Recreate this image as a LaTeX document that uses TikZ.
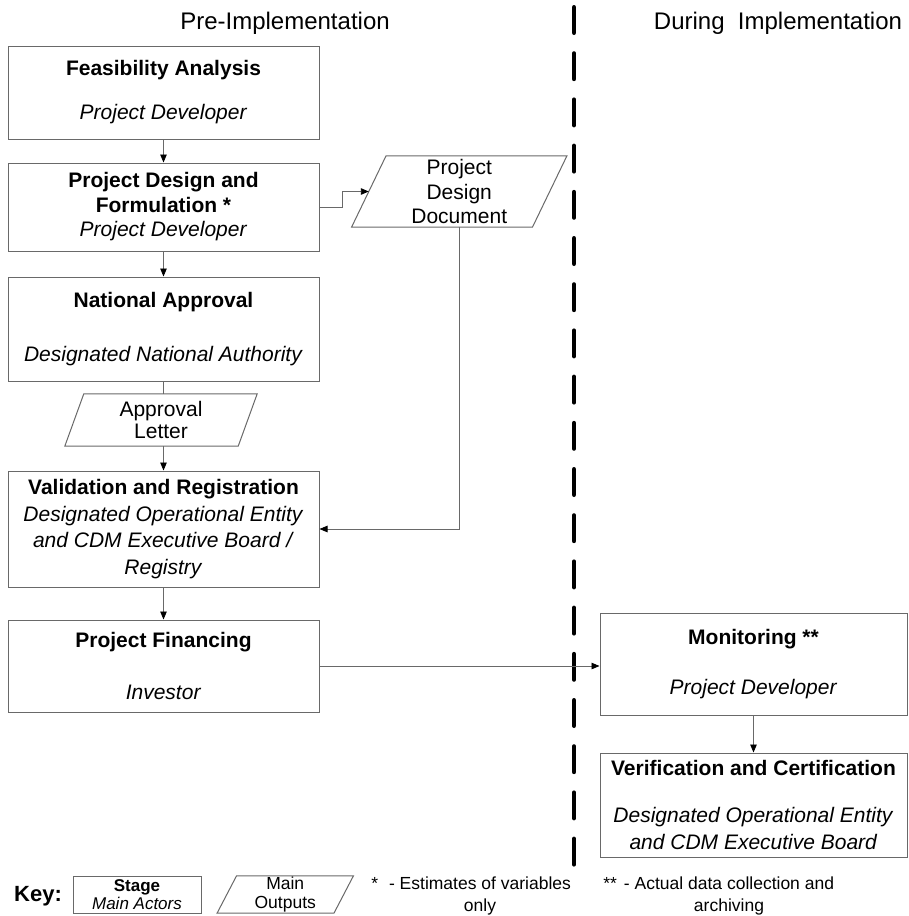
\documentclass[tikz,border=0pt]{standalone}
\usepackage{fontspec}
\setmainfont{Liberation Sans}
\usetikzlibrary{arrows.meta,calc}
\definecolor{edgegray}{RGB}{105,105,105}
\newcommand\paraoutline[2]{\draw[edgegray,line width=1pt] ([xshift=#2pt]#1.north west) -- ([xshift=#2pt]#1.north east) -- ([xshift=-#2pt]#1.south east) -- ([xshift=-#2pt]#1.south west) -- cycle;}
\begin{document}
\begin{tikzpicture}[x=1pt,y=-1pt,
  stagebox/.style={draw=edgegray,line width=1pt,minimum width=311pt,align=center,inner sep=0pt,font=\fontsize{21}{26}\selectfont},
  outbox/.style={align=center,inner sep=0pt,font=\fontsize{21}{24.5}\selectfont},
  link/.style={edgegray,line width=0.9pt},
  arr/.style={link,-{Triangle[length=8pt,width=6.5pt,color=black]}},
  heading/.style={font=\fontsize{24}{28}\selectfont,inner sep=0pt},
  keytext/.style={font=\fontsize{17.5}{22}\selectfont,inner sep=0pt,align=center},
]
\fill[white] (0,0) rectangle (908,916);
\useasboundingbox (0,0) rectangle (908,916);

% headings
\node[heading] (pre) at (285,23) {Pre-Implementation};
\node[heading] (during) at (778,23) {During\ \ Implementation};

% phase divider
\draw[line width=4.5pt,line cap=round,dash pattern=on 25.5pt off 20.7pt] (574,7.25) -- (574,866);

% stages
\node[stagebox,minimum height=93pt] (feas) at (163.5,92.5) {\textbf{Feasibility Analysis}\\[18pt]\textit{Project Developer}};
\node[stagebox,minimum height=88pt,font=\fontsize{21}{24.5}\selectfont] (design) at (163.5,207) {\textbf{Project Design and}\\\textbf{Formulation *}\\\textit{Project Developer}};
\node[stagebox,minimum height=104pt] (natl) at (163.5,329) {\textbf{National Approval}\\[28pt]\textit{Designated National Authority}};
\node[stagebox,minimum height=116pt,font=\fontsize{21}{26.7}\selectfont] (valid) at (163.5,529) {\textbf{Validation and Registration}\\\textit{Designated Operational Entity}\\\textit{and CDM Executive Board /}\\\textit{Registry}};
\node[stagebox,minimum height=92pt] (fin) at (163.5,666) {\textbf{Project Financing}\\[26pt]\textit{Investor}};
\node[stagebox,minimum width=307pt,minimum height=102pt] (mon) at (753.5,664) {\textbf{Monitoring **}\\[24pt]\textit{Project Developer}};
\node[stagebox,minimum width=307pt,minimum height=104pt,font=\fontsize{21}{27}\selectfont] (verif) at (753.5,805) {\textbf{Verification and Certification}\\[20pt]\textit{Designated Operational Entity}\\\textit{and CDM Executive Board}};

% outputs
\node[outbox,minimum width=173pt,minimum height=52pt,font=\fontsize{21}{22}\selectfont] (letter) at (161,420) {Approval\\Letter};
\paraoutline{letter}{9.5}
\node[outbox,minimum width=180.5pt,minimum height=71pt] (pdd) at (459.25,191.5) {Project\\Design\\Document};
\paraoutline{pdd}{17.25}

% connectors
\draw[arr] (feas) -- (design);
\draw[arr] (design) -- (natl);
\draw[link] (natl.south) -- (natl.south |- letter.north);
\draw[arr] (valid.north |- letter.south) -- (valid.north);
\draw[arr] (valid) -- (fin);
\draw[arr] (design.east) -- ++(23,0) |- (pdd.west);
\draw[arr] (pdd.south) |- (valid.east);
\draw[arr] (fin.east) -- (fin.east -| mon.west);
\draw[arr] (mon) -- (verif);

% key
\node[font=\fontsize{22}{26}\selectfont\bfseries,inner sep=0pt] (keylabel) at (38,896) {Key:};
\node[draw=edgegray,line width=1pt,minimum width=128pt,minimum height=37pt,inner sep=0pt,align=center,font=\fontsize{17}{18.5}\selectfont] (keystage) at (137,894.5) {\textbf{Stage}\\\textit{Main Actors}};
\node[keytext,font=\fontsize{17.5}{19}\selectfont,minimum width=116.5pt,minimum height=37pt] (keyout) at (285.25,894.5) {Main\\Outputs};
\paraoutline{keyout}{9.75}
\node[keytext] (note1) at (480,896) {\llap{*\hspace{11pt}}- Estimates of variables\\only};
\node[keytext] (note2) at (729,896) {\llap{**\hspace{7pt}}- Actual data collection and\\archiving};
\end{tikzpicture}
\end{document}
